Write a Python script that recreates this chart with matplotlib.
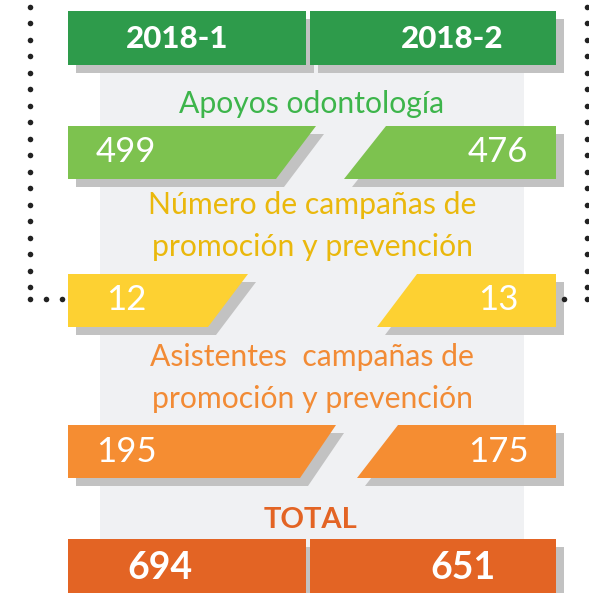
import numpy as np
import matplotlib.pyplot as plt
from matplotlib.patches import Polygon, Rectangle

# data
periods = ['2018-1', '2018-2']
categories = ['Apoyos odontología',
              'Número de campañas de\npromoción y prevención',
              'Asistentes  campañas de\npromoción y prevención']
values_2018_1 = [499, 12, 195]
values_2018_2 = [476, 13, 175]
totals = [694, 651]

# colours
header_col = '#2E9B4B'
label_cols = ['#3DB54B', '#EAB80C', '#F28B35']
bar_cols = ['#7DC24F', '#FDD132', '#F58D32']
total_col = '#E36424'
shadow_col = '#C2C2C2'
panel_col = '#F0F1F3'
font = 'Lato'

# layout in pixels (y grows down)
row_top = [126, 274, 425]
row_h = 53
left_cut = [(316, 276), (248, 208), (336, 300)]   # top-right, bottom-right x
right_cut = [(386, 344), (417, 377), (398, 357)]  # top-left, bottom-left x
label_y = [104, 226, 378]
x0, x1 = 68, 556
off = 8

fig = plt.figure(figsize=(5.89, 5.93), dpi=100)
ax = fig.add_axes([0, 0, 1, 1])
ax.set_xlim(0, 589)
ax.set_ylim(593, 0)
ax.axis('off')


def shape(pts, color, z):
    ax.add_patch(Polygon(pts, closed=True, facecolor=color, edgecolor='none', zorder=z))


def with_shadow(pts, color):
    shape([(x + off, y + off) for x, y in pts], shadow_col, 2)
    shape(pts, color, 3)


# background panel
ax.add_patch(Rectangle((100, 65), 424, 528, facecolor=panel_col, edgecolor='none', zorder=1))

# dotted frame
ys = list(np.arange(6.7, 290, 16.5)) + [299]
ax.scatter([30] * len(ys) + [46, 62], ys + [299, 299], s=16, color='#222222', zorder=4, lw=0)
ax.scatter([587] * len(ys) + [564], ys + [299], s=16, color='#222222', zorder=4, lw=0)

# headers
with_shadow([(x0, 11), (306, 11), (306, 65), (x0, 65)], header_col)
with_shadow([(310, 11), (x1, 11), (x1, 65), (310, 65)], header_col)
ax.text(177, 39, periods[0], color='white', fontsize=22.5, fontweight='black',
        family=font, ha='center', va='center', zorder=5)
ax.text(452, 39, periods[1], color='white', fontsize=22.5, fontweight='black',
        family=font, ha='center', va='center', zorder=5)

# category rows
for i in range(3):
    t, b = row_top[i], row_top[i] + row_h
    tr, br = left_cut[i]
    tl, bl = right_cut[i]
    with_shadow([(x0, t), (tr, t), (br, b), (x0, b)], bar_cols[i])
    with_shadow([(tl, t), (x1, t), (x1, b), (bl, b)], bar_cols[i])
    yc = (t + b) / 2
    ax.text(126, yc, str(values_2018_1[i]), color='white', fontsize=25,
            family=font, ha='center', va='center', zorder=5)
    ax.text(498, yc, str(values_2018_2[i]), color='white', fontsize=25,
            family=font, ha='center', va='center', zorder=5)
    ax.text(312, label_y[i], categories[i], color=label_cols[i], fontsize=21.7,
            family=font, ha='center', va='center', linespacing=1.6, zorder=5)

# totals
ax.text(311, 520, 'TOTAL', color=total_col, fontsize=21, fontweight='bold',
        family=font, ha='center', va='center', zorder=5)
with_shadow([(x0, 539), (306, 539), (306, 600), (x0, 600)], total_col)
with_shadow([(310, 539), (x1, 539), (x1, 600), (310, 600)], total_col)
ax.text(160, 568, str(totals[0]), color='white', fontsize=27, fontweight='bold',
        family=font, ha='center', va='center', zorder=5)
ax.text(463, 568, str(totals[1]), color='white', fontsize=27, fontweight='bold',
        family=font, ha='center', va='center', zorder=5)

fig.savefig('out.png', dpi=100)
